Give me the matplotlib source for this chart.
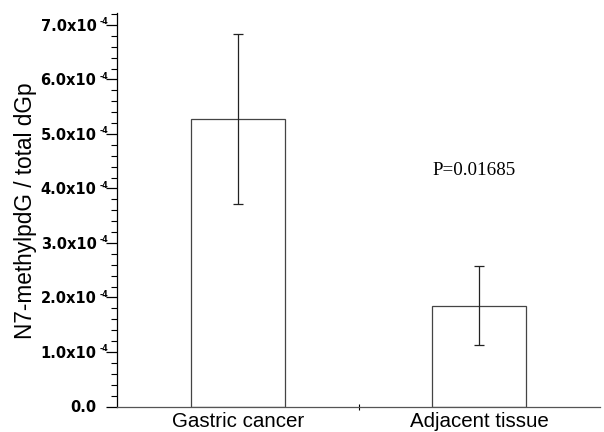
import matplotlib
matplotlib.use("Agg")
import matplotlib.pyplot as plt
from matplotlib.ticker import MultipleLocator, FixedLocator

categories = ["Gastric cancer", "Adjacent tissue"]
means = [5.28e-4, 1.85e-4]
errors = [1.56e-4, 0.72e-4]
ytick_values = [0.0, 1e-4, 2e-4, 3e-4, 4e-4, 5e-4, 6e-4, 7e-4]
ytick_labels = ["0.0", "1.0x10", "2.0x10", "3.0x10", "4.0x10", "5.0x10", "6.0x10", "7.0x10"]
ytick_exponents = ["", "-4", "-4", "-4", "-4", "-4", "-4", "-4"]
p_text = "P=0.01685"

fig = plt.figure(figsize=(6.04, 4.32), dpi=100)
W, H = 604, 432
left, right, bottom, top = 117, 600, 406.5, 13
ax = fig.add_axes([left / W, 1 - bottom / H, (right - left) / W, (bottom - top) / H])

xpos = [0.5, 1.5]
ax.bar(xpos, means, width=0.39, color="white", edgecolor="#444444", linewidth=0.9, zorder=2)
ax.errorbar(xpos, means, yerr=errors, fmt="none", ecolor="#222222", elinewidth=0.9,
            capsize=3.8, capthick=0.9, zorder=3)

ax.set_xlim(0, 2)
ax.set_ylim(0, 7.22e-4)
ax.spines["top"].set_visible(False)
ax.spines["right"].set_visible(False)
ax.spines["left"].set_linewidth(0.9)
ax.spines["bottom"].set_linewidth(0.9)
ax.spines["bottom"].set_color("#555555")

ax.set_yticks(ytick_values)
ax.set_yticklabels(ytick_labels, fontsize=10.5, fontweight="bold", family="DejaVu Sans")
ax.yaxis.set_minor_locator(MultipleLocator(2e-5))
ax.tick_params(axis="y", which="major", length=8, width=0.9, pad=6.8, direction="out")
ax.tick_params(axis="y", which="minor", length=4, width=0.8, direction="out")
for v, e in zip(ytick_values, ytick_exponents):
    if e:
        ax.annotate(e, xy=(0, v), xycoords=("axes fraction", "data"),
                    xytext=(-12.6, 2.4), textcoords="offset points",
                    ha="left", va="center", fontsize=5.8, fontweight="bold",
                    family="DejaVu Sans", annotation_clip=False)

ax.xaxis.set_major_locator(FixedLocator([1.0]))
ax.set_xticklabels([""])
ax.tick_params(axis="x", which="major", length=4, width=0.8, direction="inout")
for x, c in zip(xpos, categories):
    ax.annotate(c, xy=(x, 0), xycoords=("data", "axes fraction"),
                xytext=(0, -14.8), textcoords="offset points",
                ha="center", va="baseline", fontsize=14.8, family="Liberation Sans",
                annotation_clip=False)

fig.text(25.5 / W, 1 - 211 / H, "N7-methylpdG / total dGp", rotation=90, ha="center", va="center",
         fontsize=16.3, family="Liberation Sans")

ax.text(1.48, 4.33e-4, p_text, ha="center", va="center", fontsize=13.7, family="Liberation Serif")

fig.savefig("out.png", dpi=100)
